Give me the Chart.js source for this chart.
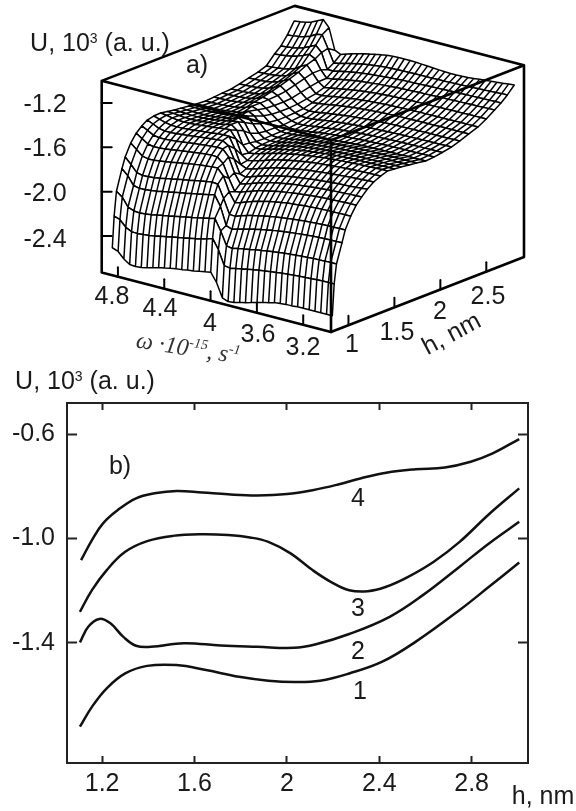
<!DOCTYPE html>
<html><head><meta charset="utf-8">
<script src="https://cdn.jsdelivr.net/npm/chart.js@4"></script>
<style>
html,body{margin:0;padding:0;background:#fff;width:576px;height:811px;overflow:hidden}
canvas{position:absolute;left:0}
#a{top:0}#b{top:380px}
.t{position:absolute;font-family:"Liberation Sans",Arial,sans-serif;font-size:25px;line-height:25px;color:#1a1a1a;white-space:nowrap;transform:translate(-50%,-50%)}
sup{font-size:14px;line-height:0;vertical-align:8px}
.o{font-family:"Liberation Serif",serif;font-style:italic;font-size:24px;color:#333}
.o sup{font-size:14px;vertical-align:9px}
</style></head><body>
<canvas id="a" width="576" height="380"></canvas>
<canvas id="b" width="576" height="431"></canvas>
<div class="t" style="left:100px;top:42px">U, 10<sup>3</sup> (a. u.)</div>
<div class="t" style="left:197px;top:64px">a)</div>
<div class="t" style="left:45px;top:103px">-1.2</div>
<div class="t" style="left:45px;top:147px">-1.6</div>
<div class="t" style="left:45px;top:192px">-2.0</div>
<div class="t" style="left:45px;top:238px">-2.4</div>
<div class="t" style="left:112px;top:295px">4.8</div>
<div class="t" style="left:160px;top:307px">4.4</div>
<div class="t" style="left:210px;top:322px">4</div>
<div class="t" style="left:258px;top:333px">3.6</div>
<div class="t" style="left:303px;top:346px">3.2</div>
<div class="t" style="left:352px;top:343px">1</div>
<div class="t" style="left:397px;top:331px">1.5</div>
<div class="t" style="left:440px;top:310px">2</div>
<div class="t" style="left:488px;top:295px">2.5</div>
<div class="t" style="left:451px;top:333px;transform:translate(-50%,-50%) rotate(-28deg)">h, nm</div>
<div class="t o" style="left:188px;top:348px;transform:translate(-50%,-50%) rotate(9deg)">ω ·10<sup>-15</sup>, s<sup>-1</sup></div>
<div class="t" style="left:85px;top:380px">U, 10<sup>3</sup> (a. u.)</div>
<div class="t" style="left:120px;top:465px">b)</div>
<div class="t" style="left:358px;top:497px">4</div>
<div class="t" style="left:358px;top:607px">3</div>
<div class="t" style="left:358px;top:650px">2</div>
<div class="t" style="left:360px;top:690px">1</div>
<div class="t" style="left:543px;top:795px">h, nm</div>
<script>
// ---- panel b: U(h) curves ----
const hCurve1=[1.104,1.156,1.22,1.30,1.395,1.522,1.65,1.793,1.92,2.031,2.143,2.27,2.413,2.557,2.748,2.875,3.006];
const uCurve1=[-1.721,-1.645,-1.574,-1.517,-1.488,-1.485,-1.504,-1.53,-1.545,-1.55,-1.545,-1.517,-1.472,-1.396,-1.274,-1.185,-1.092];
const hCurve2=[1.104,1.14,1.188,1.236,1.291,1.347,1.411,1.554,1.713,1.872,2.031,2.126,2.27,2.445,2.589,2.748,2.875,3.006];
const uCurve2=[-1.398,-1.338,-1.308,-1.325,-1.376,-1.411,-1.415,-1.401,-1.41,-1.415,-1.419,-1.405,-1.366,-1.3,-1.217,-1.108,-1.019,-0.936];
const hCurve3=[1.104,1.156,1.22,1.30,1.395,1.506,1.634,1.745,1.84,1.92,2.016,2.111,2.19,2.27,2.35,2.43,2.525,2.636,2.748,2.875,3.006];
const uCurve3=[-1.281,-1.198,-1.121,-1.051,-1.01,-0.99,-0.984,-0.987,-0.996,-1.013,-1.057,-1.121,-1.166,-1.198,-1.202,-1.185,-1.147,-1.089,-1.013,-0.907,-0.808];
const hCurve4=[1.109,1.156,1.204,1.268,1.347,1.427,1.522,1.634,1.745,1.872,2.0,2.111,2.222,2.318,2.43,2.557,2.684,2.796,2.891,3.006];
const uCurve4=[-1.083,-1.006,-0.942,-0.891,-0.846,-0.827,-0.818,-0.824,-0.831,-0.835,-0.83,-0.815,-0.793,-0.77,-0.748,-0.735,-0.728,-0.706,-0.674,-0.619];
const bXTicks=[1.2,1.6,2,2.4,2.8];
const bYTicks=[-0.6,-1.0,-1.4];
// ---- panel a: surface U (in 10^-3 of the axis unit, sign dropped) ----
const omegaCols=[4.92,4.87,4.82,4.77,4.72,4.67,4.62,4.57,4.52,4.47,4.42,4.37,4.32,4.27,4.22,4.17,4.12,4.07,4.02,3.97,3.92,3.87,3.82,3.77,3.72,3.67,3.62,3.57,3.52,3.47,3.42,3.37,3.32,3.27,3.22,3.17,3.12,3.07,3.02];
const hRows=[0.90,0.92,0.945,1.005,1.04,1.10,1.16,1.22,1.28,1.35,1.425,1.50,1.575,1.645,1.735,1.815,1.915,2.005,2.095,2.195,2.285,2.385,2.485,2.575,2.665,2.735,2.805,2.88];
const r00=[2530,2550,2605,2640,2645,2640,2630,2615,2600,2590,2580,2570,2565,2555,2550,2540,2530,2520,2600,2725,2745,2740,2725,2715,2700,2685,2670,2660,2645,2640,2635,2635,2630,2630,2630,2630,2630,2630,2630];
const r01=[2250,2270,2325,2350,2355,2350,2345,2335,2325,2315,2305,2295,2285,2275,2265,2255,2240,2222,2310,2440,2450,2440,2430,2420,2410,2402,2395,2388,2380,2375,2370,2365,2360,2358,2355,2352,2350,2350,2349];
const r02=[2035,2075,2150,2172,2176,2172,2165,2155,2145,2135,2125,2115,2105,2095,2085,2075,2062,2050,2150,2270,2280,2268,2258,2248,2238,2230,2222,2215,2208,2202,2197,2192,2188,2185,2182,2180,2178,2177,2177];
const r03=[1850,1900,1975,1987,1987,1980,1972,1962,1952,1942,1932,1922,1912,1902,1892,1882,1870,1960,2120,2140,2125,2110,2098,2085,2075,2065,2055,2048,2040,2034,2028,2023,2018,2014,2011,2009,2007,2006,2005];
const r04=[1756,1810,1870,1882,1880,1875,1866,1856,1846,1836,1826,1816,1806,1797,1788,1778,1785,1900,2030,2035,2015,2000,1987,1975,1964,1954,1945,1938,1931,1925,1920,1915,1911,1908,1905,1903,1902,1901,1900];
const r05=[1650,1695,1740,1752,1750,1744,1736,1727,1718,1709,1700,1693,1686,1680,1675,1672,1730,1860,1945,1930,1910,1893,1878,1865,1853,1843,1834,1826,1820,1815,1810,1806,1803,1801,1799,1798,1797,1796,1795];
const r06=[1580,1615,1650,1662,1660,1655,1648,1640,1632,1625,1618,1612,1606,1602,1605,1650,1770,1875,1870,1850,1832,1816,1802,1790,1780,1770,1762,1755,1748,1742,1737,1732,1728,1725,1722,1720,1718,1716,1715];
const r07=[1534,1560,1590,1600,1600,1596,1590,1583,1577,1571,1565,1559,1554,1550,1552,1610,1740,1825,1815,1795,1777,1762,1748,1736,1726,1717,1709,1702,1696,1690,1685,1680,1676,1673,1670,1667,1664,1662,1660];
const r08=[1500,1522,1548,1558,1558,1555,1550,1544,1538,1532,1526,1520,1515,1510,1540,1650,1770,1785,1768,1750,1733,1718,1705,1693,1683,1674,1666,1659,1652,1647,1642,1637,1633,1629,1626,1623,1620,1615,1610];
const r09=[1486,1500,1518,1528,1530,1528,1524,1519,1514,1508,1503,1498,1493,1492,1590,1720,1745,1735,1718,1700,1684,1670,1657,1646,1636,1628,1620,1613,1607,1601,1596,1591,1587,1583,1579,1576,1573,1570,1567];
const r10=[1483,1490,1500,1508,1510,1508,1505,1500,1495,1489,1483,1477,1471,1540,1670,1708,1698,1683,1667,1651,1637,1624,1612,1602,1593,1585,1578,1572,1566,1561,1557,1553,1550,1547,1544,1542,1540,1539,1538];
const r11=[1493,1497,1503,1508,1510,1507,1503,1497,1491,1485,1476,1462,1500,1620,1678,1672,1658,1643,1628,1615,1603,1592,1582,1573,1565,1558,1552,1546,1541,1537,1533,1530,1527,1524,1522,1520,1518,1517,1516];
const r12=[1504,1506,1509,1512,1512,1509,1504,1498,1490,1480,1468,1462,1530,1625,1660,1655,1642,1628,1615,1603,1592,1582,1573,1565,1558,1552,1546,1541,1537,1534,1531,1529,1527,1526,1525,1524,1523,1522,1522];
const r13=[1510,1512,1514,1516,1515,1511,1506,1499,1491,1481,1462,1490,1575,1635,1650,1645,1633,1620,1607,1596,1586,1577,1569,1562,1556,1551,1546,1542,1539,1536,1534,1532,1531,1530,1529,1528,1528,1527,1527];
const r14=[1520,1521,1522,1522,1520,1516,1510,1503,1495,1480,1475,1530,1600,1638,1645,1640,1630,1618,1607,1597,1588,1580,1573,1567,1562,1557,1553,1550,1547,1545,1543,1541,1540,1539,1539,1538,1538,1538,1538];
const r15=[1528,1528,1528,1527,1524,1520,1514,1507,1496,1472,1500,1555,1610,1635,1640,1636,1627,1617,1607,1598,1590,1583,1577,1571,1566,1562,1558,1555,1553,1551,1549,1548,1547,1547,1546,1546,1546,1546,1546];
const r16=[1533,1532,1530,1527,1523,1518,1510,1495,1472,1490,1530,1575,1612,1632,1635,1632,1625,1617,1609,1602,1595,1590,1585,1581,1577,1574,1571,1569,1567,1565,1564,1563,1562,1561,1561,1560,1560,1560,1560];
const r17=[1526,1525,1523,1520,1515,1508,1495,1475,1472,1505,1545,1585,1615,1628,1630,1626,1619,1611,1603,1596,1590,1585,1580,1576,1572,1569,1566,1564,1562,1560,1558,1557,1556,1555,1554,1554,1553,1553,1553];
const r18=[1519,1518,1516,1513,1508,1500,1484,1462,1470,1510,1550,1585,1608,1620,1618,1612,1605,1597,1590,1583,1577,1572,1567,1563,1559,1556,1553,1551,1549,1547,1546,1545,1544,1543,1542,1542,1541,1541,1541];
const r19=[1514,1513,1511,1507,1501,1490,1470,1442,1465,1510,1550,1580,1598,1600,1595,1588,1581,1574,1568,1562,1557,1552,1548,1545,1542,1539,1537,1535,1533,1531,1530,1529,1528,1527,1526,1525,1525,1524,1524];
const r20=[1498,1497,1494,1490,1483,1470,1447,1420,1455,1505,1545,1572,1580,1575,1568,1560,1552,1545,1539,1533,1528,1523,1519,1515,1512,1510,1508,1506,1505,1504,1503,1502,1501,1501,1500,1500,1500,1499,1499];
const r21=[1476,1475,1472,1467,1459,1445,1420,1392,1430,1485,1530,1550,1545,1537,1528,1520,1512,1505,1499,1494,1489,1485,1482,1479,1477,1475,1473,1472,1471,1470,1470,1469,1469,1468,1468,1468,1467,1467,1467];
const r22=[1455,1453,1449,1443,1434,1418,1388,1362,1405,1465,1515,1518,1510,1500,1492,1484,1477,1471,1465,1460,1456,1452,1449,1447,1445,1443,1442,1441,1440,1440,1439,1439,1438,1438,1437,1437,1437,1436,1436];
const r23=[1429,1426,1421,1414,1403,1385,1350,1325,1385,1450,1488,1480,1470,1460,1451,1443,1436,1430,1424,1419,1415,1412,1409,1407,1405,1403,1402,1401,1400,1399,1398,1397,1396,1395,1395,1394,1394,1393,1393];
const r24=[1350,1345,1338,1330,1315,1295,1272,1300,1385,1447,1440,1430,1420,1411,1403,1396,1390,1385,1380,1376,1372,1369,1366,1364,1362,1360,1358,1356,1355,1353,1352,1350,1349,1347,1346,1345,1344,1342,1341];
const r25=[1300,1295,1288,1278,1262,1238,1212,1265,1405,1405,1393,1382,1372,1364,1357,1350,1345,1340,1336,1332,1329,1326,1324,1322,1320,1318,1316,1315,1313,1312,1310,1309,1307,1306,1305,1303,1302,1301,1300];
const r26=[1223,1218,1210,1198,1180,1150,1140,1250,1368,1360,1345,1332,1320,1310,1302,1295,1290,1285,1282,1280,1278,1277,1276,1276,1275,1275,1274,1273,1272,1270,1268,1266,1264,1262,1260,1257,1255,1252,1250];
const r27=[1121,1115,1105,1090,1065,1040,1100,1290,1315,1298,1282,1268,1255,1243,1232,1222,1215,1210,1207,1207,1208,1210,1213,1217,1220,1224,1228,1230,1230,1228,1225,1220,1215,1210,1205,1200,1195,1190,1185];
const surfaceRows=[r00,r01,r02,r03,r04,r05,r06,r07,r08,r09,r10,r11,r12,r13,r14,r15,r16,r17,r18,r19,r20,r21,r22,r23,r24,r25,r26,r27];
const omegaTicks=[4.8,4.4,4,3.6,3.2];
const hTicks=[1,1.5,2,2.5];
const uTicks=[-1.2,-1.6,-2.0,-2.4];
const omegaBox=[2.96,4.94], hBox=[0.81,2.91], uBox=[-2.73,-1.0];

// oblique projection of the 3-D axes on the plot plane
function P(w,h,u){return {x:331-115.8*(w-2.96)+91.9*(h-0.81), y:103+(-1.2-u)*110.8-30*(w-4.94)-35.7*(h-0.81)};}
const grid=surfaceRows.map((r,i)=>r.map((v,j)=>P(omegaCols[j],hRows[i],-v/1000)));
const ds=[];
const black='#000';
for(let i=0;i<grid.length-1;i++){
  const a=grid[i],b=grid[i+1];
  const mesh=a.slice();
  for(let j=a.length-1;j>=0;j--){ mesh.push(b[j],a[j],b[j]); }
  ds.push({data:mesh,order:1+2*i,borderColor:black,borderWidth:1.5,pointRadius:0,fill:false,tension:0,borderJoinStyle:'round',clip:false});
  const outline=a.concat(b.slice().reverse());
  ds.push({data:outline,order:2+2*i,borderColor:'rgba(0,0,0,0)',borderWidth:0,backgroundColor:'#fff',pointRadius:0,fill:'shape',tension:0,clip:false});
}
const [w0,w1]=omegaBox,[h0,h1]=hBox,[ub,ut]=uBox;
const TL=P(w1,h0,ut),AP=P(w1,h1,ut),TR=P(w0,h1,ut),TF=P(w0,h0,ut),BL=P(w1,h0,ub),BF=P(w0,h0,ub),BR=P(w0,h1,ub);
function edge(pts,w){ds.push({data:pts,order:0,borderColor:black,borderWidth:w||2.6,pointRadius:0,fill:false,tension:0,clip:false,borderCapStyle:'round',borderJoinStyle:'round'});}
edge([TL,AP,TR,TF,TL,BL,BF,BR,TR]);
edge([BF,TF]);
omegaTicks.forEach(w=>edge([P(w,h0,ub),P(w,h0,ub+0.085)],2));
hTicks.forEach(h=>edge([P(w0,h,ub),P(w0,h,ub+0.085)],2));
uTicks.forEach(u=>{const p=P(w1,h0,u);edge([p,{x:p.x+10,y:p.y}],2);});

new Chart(document.getElementById('a'),{type:'line',data:{datasets:ds},options:{
  responsive:false,animation:false,events:[],layout:{padding:0},
  plugins:{legend:{display:false},tooltip:{enabled:false}},
  scales:{x:{type:'linear',min:0,max:576,display:false},y:{type:'linear',min:0,max:380,reverse:true,display:false}}
}});

const zip=(xs,ys)=>xs.map((x,i)=>({x,y:ys[i]}));
const curve=d=>({data:d,borderColor:'#111',borderWidth:2.5,pointRadius:0,fill:false,tension:0.4,clip:false});
const font={family:'"Liberation Sans",Arial,sans-serif',size:25};
const noPad=s=>{s.paddingTop=s.paddingBottom=s.paddingLeft=s.paddingRight=0;};
const xBase={type:'linear',min:1.048,max:3.044,afterBuildTicks:s=>{s.ticks=bXTicks.map(value=>({value}));},
  border:{display:true,color:'#222',width:2},
  grid:{drawOnChartArea:false,drawTicks:true,tickLength:-7,tickWidth:2,tickColor:'#222'}};
const yBase={type:'linear',min:-1.86,max:-0.481,afterBuildTicks:s=>{s.ticks=bYTicks.map(value=>({value}));},
  border:{display:true,color:'#222',width:2},
  grid:{drawOnChartArea:false,drawTicks:true,tickLength:-10,tickWidth:2,tickColor:'#222'}};
new Chart(document.getElementById('b'),{type:'line',data:{datasets:[curve(zip(hCurve1,uCurve1)),curve(zip(hCurve2,uCurve2)),curve(zip(hCurve3,uCurve3)),curve(zip(hCurve4,uCurve4))]},options:{
  responsive:false,animation:false,events:[],layout:{padding:0},
  plugins:{legend:{display:false},tooltip:{enabled:false}},
  scales:{
    x:{...xBase,position:'bottom',afterFit:s=>{s.height=48;noPad(s);},ticks:{font,color:'#1a1a1a',padding:13,maxRotation:0,autoSkip:false,callback:v=>String(+v.toFixed(1))}},
    xTop:{...xBase,position:'top',afterFit:s=>{s.height=23;noPad(s);},ticks:{display:false}},
    y:{...yBase,position:'left',afterFit:s=>{s.width=67;noPad(s);},ticks:{font,color:'#1a1a1a',padding:22,autoSkip:false,callback:v=>v.toFixed(1)}},
    yRight:{...yBase,position:'right',afterFit:s=>{s.width=48;noPad(s);},ticks:{display:false}}
  }
}});
</script></body></html>
